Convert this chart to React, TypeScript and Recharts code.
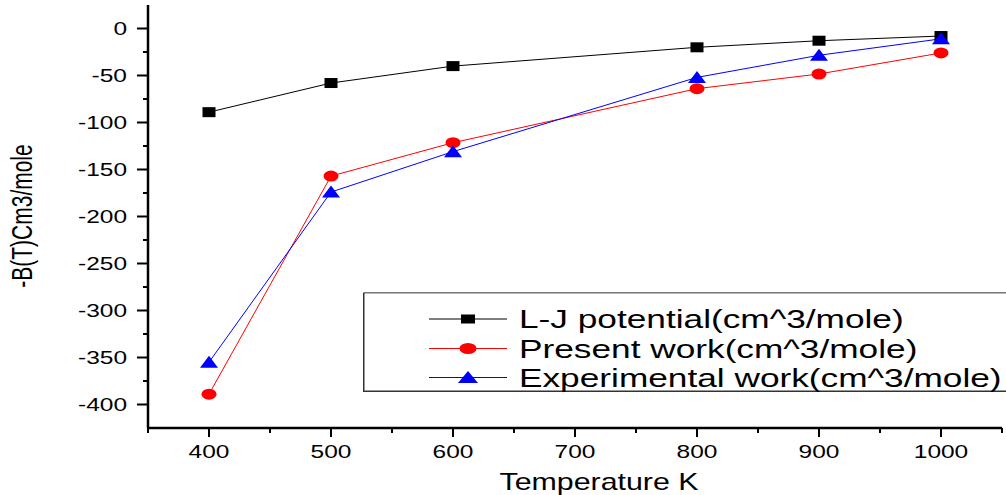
import { LineChart, Line, XAxis, YAxis, Legend, Label } from "recharts";

const FONT = "'Liberation Sans', Arial, sans-serif";
// the source picture is stretched sideways, so text is widened to match
const STRETCH = 1.4;

const temperatures = [400, 500, 600, 800, 900, 1000];
const ljPotential = [-89, -58, -40, -20, -13, -8];
const presentWork = [-389, -157, -121.5, -64, -48.4, -26];
const experimentalWork = [-355, -174, -131, -52, -28.5, -11];

const xTicks = [350, 400, 450, 500, 550, 600, 650, 700, 750, 800, 850, 900, 950, 1000, 1050];
const yTicks = [
  0, -25, -50, -75, -100, -125, -150, -175, -200, -225, -250, -275, -300, -325, -350, -375, -400,
];

const data = temperatures.map((t, i) => ({
  temp: t,
  lj: ljPotential[i],
  present: presentWork[i],
  experimental: experimentalWork[i],
}));

type Shape = "square" | "circle" | "triangle";

const series: { key: string; name: string; color: string; shape: Shape }[] = [
  { key: "lj", name: "L-J potential(cm^3/mole)", color: "#000000", shape: "square" },
  { key: "present", name: "Present work(cm^3/mole)", color: "#ff0000", shape: "circle" },
  { key: "experimental", name: "Experimental work(cm^3/mole)", color: "#0000ff", shape: "triangle" },
];

function Marker({ cx, cy, shape, color, w, h }: { cx: number; cy: number; shape: Shape; color: string; w: number; h: number }) {
  if (shape === "square") {
    return <rect x={cx - w / 2} y={cy - h / 2} width={w} height={h} fill={color} />;
  }
  if (shape === "circle") {
    return <ellipse cx={cx} cy={cy} rx={w / 2} ry={h / 2} fill={color} />;
  }
  return (
    <polygon
      points={`${cx},${cy - h / 2 - 1} ${cx + w / 2},${cy + h / 2} ${cx - w / 2},${cy + h / 2}`}
      fill={color}
    />
  );
}

const dotSize: Record<Shape, [number, number]> = {
  square: [13, 10],
  circle: [15, 11],
  triangle: [18, 11],
};

const legendSize: Record<Shape, [number, number]> = {
  square: [14, 9],
  circle: [17, 11],
  triangle: [20, 11],
};

function XTick(props: any) {
  const { x, y, payload } = props;
  const major = payload.value % 100 === 0;
  return (
    <g>
      <line x1={x} y1={y} x2={x} y2={y + (major ? 9 : 5)} stroke="#000" strokeWidth={2} />
      {major && (
        <text
          transform={`translate(${x},${y + 30}) scale(${STRETCH},1)`}
          textAnchor="middle"
          fontFamily={FONT}
          fontSize={17.5}
          fill="#000"
        >
          {payload.value}
        </text>
      )}
    </g>
  );
}

function YTick(props: any) {
  const { x, y, payload } = props;
  const major = payload.value % 50 === 0;
  return (
    <g>
      <line x1={x} y1={y} x2={x - (major ? 11 : 5)} y2={y} stroke="#000" strokeWidth={2} />
      {major && (
        <text
          transform={`translate(${x - 21},${y + 6}) scale(${STRETCH},1)`}
          textAnchor="end"
          fontFamily={FONT}
          fontSize={17.5}
          fill="#000"
        >
          {payload.value}
        </text>
      )}
    </g>
  );
}

function LegendBox() {
  const rows = [27, 56.5, 85.5];
  return (
    <svg width={643} height={100} style={{ display: "block", overflow: "visible" }}>
      <path d="M 0.75 0.75 H 643" stroke="#777" strokeWidth={1.5} fill="none" />
      <path d="M 0.75 0.75 V 99.25 H 643" stroke="#333" strokeWidth={1.5} fill="none" />
      {series.map((s, i) => {
        const [w, h] = legendSize[s.shape];
        return (
          <g key={s.key}>
            <line x1={66} y1={rows[i]} x2={144} y2={rows[i]} stroke={s.color} strokeWidth={1} />
            <Marker cx={105} cy={rows[i]} shape={s.shape} color={s.color} w={w} h={h} />
            <text
              transform={`translate(156,${rows[i] + 9}) scale(1.41,1)`}
              fontFamily={FONT}
              fontSize={25}
              fill="#000"
            >
              {s.name}
            </text>
          </g>
        );
      })}
    </svg>
  );
}

export default function App() {
  return (
    <div style={{ position: "absolute", left: 0, top: 0, background: "#fff" }}>
      <LineChart width={1006} height={495} data={data} margin={{ top: 5, right: 4, bottom: 0, left: 0 }}>
        <XAxis
          type="number"
          dataKey="temp"
          domain={[350, 1050]}
          ticks={xTicks}
          interval={0}
          height={67}
          tickSize={0}
          tickMargin={0}
          tickLine={false}
          tick={<XTick />}
          axisLine={{ stroke: "#000", strokeWidth: 2.5 }}
        >
          <Label
            content={() => (
              <text
                transform="translate(599,490) scale(1.32,1)"
                textAnchor="middle"
                fontFamily={FONT}
                fontSize={23}
                fill="#000"
              >
                Temperature K
              </text>
            )}
          />
        </XAxis>
        <YAxis
          type="number"
          domain={[-425, 25]}
          ticks={yTicks}
          interval={0}
          width={148}
          tickSize={0}
          tickMargin={0}
          tickLine={false}
          tick={<YTick />}
          axisLine={{ stroke: "#000", strokeWidth: 2.5 }}
        >
          <Label
            content={() => (
              <text
                transform="translate(32,216) scale(1.4,1) rotate(-90)"
                textAnchor="middle"
                fontFamily={FONT}
                fontSize={21}
                fill="#000"
              >
                -B(T)Cm3/mole
              </text>
            )}
          />
        </YAxis>
        <Legend
          layout="vertical"
          align="center"
          verticalAlign="middle"
          wrapperStyle={{ position: "absolute", left: 363, top: 292, width: 643, height: 100 }}
          content={() => <LegendBox />}
        />
        {series.map((s) => {
          const [w, h] = dotSize[s.shape];
          return (
            <Line
              key={s.key}
              type="linear"
              dataKey={s.key}
              name={s.name}
              stroke={s.color}
              strokeWidth={1}
              isAnimationActive={false}
              activeDot={false}
              dot={(p: any) => (
                <Marker key={`${s.key}-${p.index}`} cx={p.cx} cy={p.cy} shape={s.shape} color={s.color} w={w} h={h} />
              )}
            />
          );
        })}
      </LineChart>
    </div>
  );
}
